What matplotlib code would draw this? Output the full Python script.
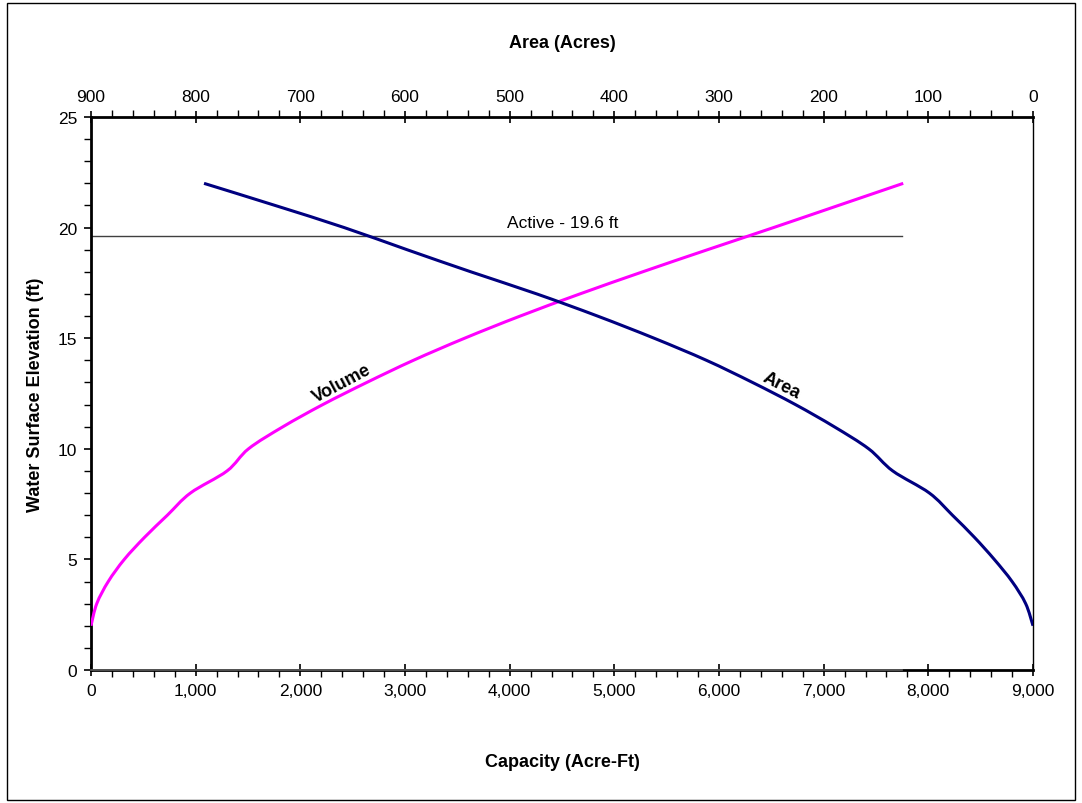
import matplotlib
matplotlib.use("Agg")
import matplotlib.pyplot as plt
from matplotlib.path import Path
from matplotlib.patches import PathPatch, Rectangle
from matplotlib.ticker import MultipleLocator, FuncFormatter

plt.rcParams['font.family'] = ['Liberation Sans', 'DejaVu Sans']

# Elevation-capacity-area table
elevation_ft = [2, 3, 4, 5, 6, 7, 8, 9, 10, 11, 12, 13, 14, 15, 16, 17, 18, 19, 20, 21, 22]
capacity_acft = [0, 55, 165, 318, 512, 730, 950, 1300, 1505, 1835, 2215, 2635, 3080,
                 3570, 4100, 4670, 5270, 5890, 6520, 7140, 7760]
area_acres = [0, 7, 20, 37, 56, 77, 99, 134, 157, 190, 227, 268, 312, 362, 416, 474,
              537, 598, 658, 724, 792]

active_elev = 19.6
active_label = "Active - 19.6 ft"
active_extent = 7750  # capacity at the top of the pool

cap_ticks = [0, 1000, 2000, 3000, 4000, 5000, 6000, 7000, 8000, 9000]
area_ticks = [900, 800, 700, 600, 500, 400, 300, 200, 100, 0]


def smooth_path(xs, ys):
    """Cubic Bezier path through the points (Catmull-Rom style smoothing)."""
    pts = list(zip(xs, ys))
    n = len(pts)
    verts = [pts[0]]
    codes = [Path.MOVETO]
    for i in range(n - 1):
        p0 = pts[i - 1] if i > 0 else pts[i]
        p1 = pts[i]
        p2 = pts[i + 1]
        p3 = pts[i + 2] if i + 2 < n else pts[i + 1]
        c1 = (p1[0] + (p2[0] - p0[0]) / 6.0, p1[1] + (p2[1] - p0[1]) / 6.0)
        c2 = (p2[0] - (p3[0] - p1[0]) / 6.0, p2[1] - (p3[1] - p1[1]) / 6.0)
        verts += [c1, c2, p2]
        codes += [Path.CURVE4] * 3
    return Path(verts, codes)


fig = plt.figure(figsize=(10.82, 8.04), dpi=100)
fig.patches.append(Rectangle((7 / 1082, 3 / 804), 1068 / 1082, 797 / 804,
                             transform=fig.transFigure, fill=False,
                             edgecolor='black', linewidth=1.0))

ax = fig.add_axes([91 / 1082, 133 / 804, 942 / 1082, 553 / 804])
ax.set_xlim(0, 9000)
ax.set_ylim(0, 25)

ax2 = ax.twiny()
ax2.set_xlim(900, 0)

# Capacity (volume) curve
vol = PathPatch(smooth_path(capacity_acft, elevation_ft), fill=False,
                edgecolor='#FF00FF', linewidth=2.2, capstyle='butt', zorder=3)
ax.add_patch(vol)

# Surface area curve on the reversed top axis
area = PathPatch(smooth_path(area_acres, elevation_ft), fill=False,
                 edgecolor='#000080', linewidth=2.2, capstyle='butt', zorder=3)
ax2.add_patch(area)

# Active pool and bottom reference lines
ax.plot([0, active_extent], [active_elev, active_elev], color='#404040',
        linewidth=1.0, zorder=2)
ax.plot([0, active_extent], [0, 0], color='#606060', linewidth=1.2,
        zorder=4, clip_on=False)
ax.text(4510, 20.24, active_label, ha='center', va='center', fontsize=12.5)

ax.text(2400, 12.97, "Volume", ha='center', va='center', fontsize=13,
        fontweight='bold', rotation=28, rotation_mode='anchor')
ax2.text(240, 12.88, "Area", ha='center', va='center', fontsize=13,
         fontweight='bold', rotation=-27, rotation_mode='anchor')

# Axes styling
ax.set_xticks(cap_ticks)
ax.xaxis.set_minor_locator(MultipleLocator(200))
ax.xaxis.set_major_formatter(FuncFormatter(lambda v, p: f"{int(v):,}"))
ax.yaxis.set_major_locator(MultipleLocator(5))
ax.yaxis.set_minor_locator(MultipleLocator(1))
ax.tick_params(axis='x', which='major', direction='inout', length=9, width=1.2,
               labelsize=12.5, pad=5)
ax.tick_params(axis='x', which='minor', direction='out', length=5, width=1.0)
ax.tick_params(axis='y', which='major', direction='out', length=5, width=1.2,
               labelsize=12.5, pad=5)
ax.tick_params(axis='y', which='minor', direction='out', length=5, width=1.0)

ax2.set_xticks(area_ticks)
ax2.xaxis.set_minor_locator(MultipleLocator(20))
ax2.tick_params(axis='x', which='major', direction='inout', length=9, width=1.2,
                labelsize=12.5, pad=5)
ax2.tick_params(axis='x', which='minor', direction='out', length=5, width=1.0)

for name in ('left', 'bottom'):
    ax.spines[name].set_linewidth(2.0)
ax.spines['top'].set_visible(False)
ax.spines['right'].set_linewidth(1.0)
for name in ('left', 'right', 'bottom'):
    ax2.spines[name].set_visible(False)
ax2.spines['top'].set_linewidth(2.0)

ax.set_xlabel("Capacity (Acre-Ft)", fontsize=13, fontweight='bold', va='center')
ax.xaxis.set_label_coords(0.5, -0.1646)
ax.set_ylabel("Water Surface Elevation (ft)", fontsize=13, fontweight='bold',
              va='center')
ax.yaxis.set_label_coords(-0.0584, 0.5)
ax2.set_xlabel("Area (Acres)", fontsize=13, fontweight='bold', va='center')
ax2.xaxis.set_label_coords(0.5, 1.134)

fig.savefig("out.png", dpi=100)
